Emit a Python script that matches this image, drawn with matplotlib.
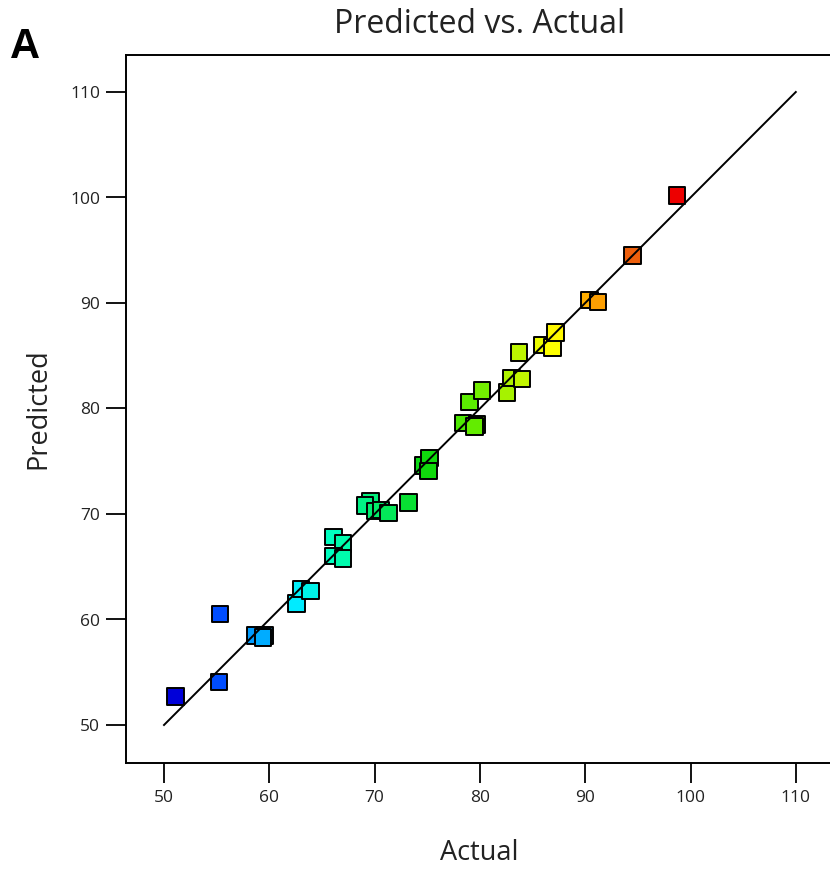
import matplotlib
matplotlib.use("Agg")
import matplotlib.pyplot as plt
import numpy as np
from matplotlib.colors import LinearSegmentedColormap, Normalize

# ---- data ----
actual = [51.1, 55.2, 55.3, 58.7, 59.6, 59.4, 62.6, 63.0, 63.9, 66.1, 67.0, 66.1, 67.0,
          69.6, 69.1, 70.1, 70.6, 71.3, 73.2, 74.6, 75.2, 75.1, 78.4, 79.7, 79.5, 79.0,
          80.2, 82.6, 83.0, 84.0, 83.7, 85.9, 86.9, 87.2, 90.4, 91.2, 94.5, 98.7]
predicted = [52.7, 54.1, 60.5, 58.5, 58.5, 58.3, 61.5, 62.9, 62.7, 67.8, 67.2, 66.0, 65.8,
             71.2, 70.8, 70.3, 70.4, 70.1, 71.1, 74.6, 75.3, 74.1, 78.6, 78.5, 78.3, 80.6,
             81.7, 81.5, 82.9, 82.8, 85.3, 86.0, 85.8, 87.2, 90.3, 90.1, 94.5, 100.2]
ticks = [50, 60, 70, 80, 90, 100, 110]
ref_line = [50, 110]

# ---- style ----
plt.rcParams['font.family'] = ['Open Sans', 'DejaVu Sans']

W, H = 830, 872
fig = plt.figure(figsize=(W / 100, H / 100), dpi=100)
left, right, top, bottom = 126, 833, 55, 763
ax = fig.add_axes([left / W, 1 - bottom / H, (right - left) / W, (bottom - top) / H])

vmin, vmax = 51.1, 98.7
anchors = [(51.1, (0.0, 0.0, 0.85)), (55.2, (0.0, 0.30, 1.0)), (59.0, (0.0, 0.65, 1.0)),
           (62.6, (0.0, 0.93, 1.0)), (66.0, (0.0, 1.0, 0.75)), (70.0, (0.0, 0.93, 0.45)),
           (75.0, (0.05, 0.85, 0.05)), (79.0, (0.35, 0.92, 0.0)), (83.0, (0.68, 0.95, 0.0)),
           (87.0, (1.0, 1.0, 0.0)), (90.5, (1.0, 0.68, 0.0)), (94.5, (0.93, 0.38, 0.05)),
           (98.7, (0.93, 0.0, 0.0))]
cmap = LinearSegmentedColormap.from_list(
    "de", [((v - vmin) / (vmax - vmin), c) for v, c in anchors])
norm = Normalize(vmin=vmin, vmax=vmax)

ax.scatter(actual, predicted, c=actual, cmap=cmap, norm=norm, marker='s', s=140,
           edgecolors='black', linewidths=1.4, zorder=2)
ax.plot(ref_line, ref_line, color='black', lw=1.4, zorder=3)

xpx = 10.53
ypx = 10.55
ax.set_xlim(50 - (164 - left) / xpx, 50 + (right - 164) / xpx)
ax.set_ylim(50 - (bottom - 725) / ypx, 50 + (725 - top) / ypx)
ax.set_xticks(ticks)
ax.set_yticks(ticks)
ax.tick_params(axis='both', direction='out', length=14.5, width=1.3, colors='black',
               labelcolor='#222222', labelsize=12.5, pad=4)
ax.tick_params(axis='x', pad=5)
for s in ax.spines.values():
    s.set_linewidth(1.4)
ax.spines['right'].set_visible(False)

ax.set_xlabel("Actual", fontsize=19.5, color='#222222', labelpad=24)
ax.set_ylabel("Predicted", fontsize=19.5, color='#222222', labelpad=13)
ax.set_title("Predicted vs. Actual", fontsize=23, color='#222222', pad=16)
fig.text(10 / W, 1 - 47 / H, "A", fontsize=30, fontweight='bold', color='black',
         va='center', ha='left', family=['Liberation Sans', 'DejaVu Sans'])

fig.savefig("out.png", dpi=100)
